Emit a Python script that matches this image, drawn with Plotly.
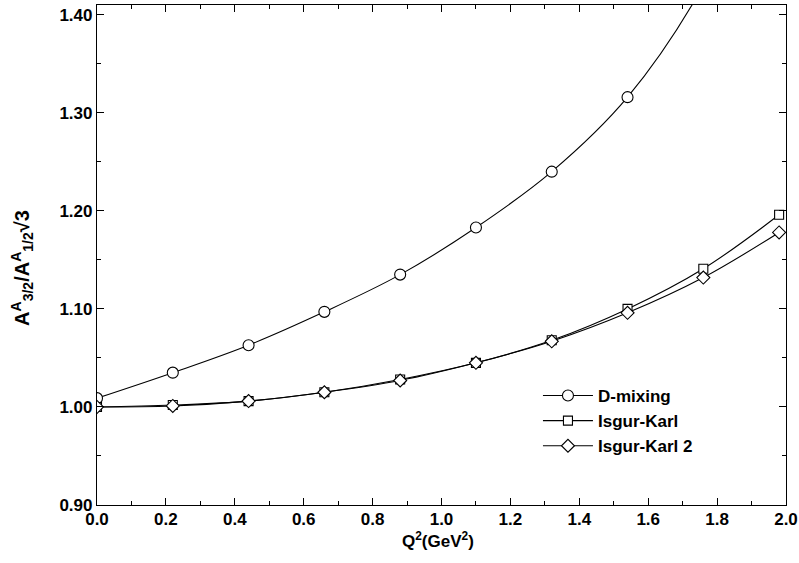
import plotly.graph_objects as go

q2 = [0.0, 0.22, 0.44, 0.66, 0.88, 1.10, 1.32, 1.54, 1.76, 1.98]
d_mixing = [1.009, 1.035, 1.063, 1.097, 1.135, 1.183, 1.240, 1.316, 1.430, 1.600]
isgur_karl = [1.000, 1.002, 1.006, 1.015, 1.028, 1.045, 1.068, 1.100, 1.141, 1.196]
isgur_karl2 = [1.000, 1.001, 1.006, 1.015, 1.027, 1.045, 1.067, 1.096, 1.132, 1.178]

x_ticks = [0.0, 0.2, 0.4, 0.6, 0.8, 1.0, 1.2, 1.4, 1.6, 1.8, 2.0]
y_ticks = [0.90, 1.00, 1.10, 1.20, 1.30, 1.40]

FONT = "Liberation Sans, Arial, Helvetica, sans-serif"

fig = go.Figure()
series = [
    ("D-mixing", d_mixing, "circle", 11),
    ("Isgur-Karl", isgur_karl, "square", 9),
    ("Isgur-Karl 2", isgur_karl2, "diamond", 10),
]
for name, ys, sym, size in series:
    fig.add_trace(go.Scatter(
        x=q2, y=ys, name=name, mode="lines+markers",
        line=dict(color="black", width=1.1, shape="spline", smoothing=1.0),
        marker=dict(symbol=sym, size=size, color="white",
                    line=dict(color="black", width=1.1)),
        cliponaxis=True,
    ))

axis_common = dict(
    showgrid=False, zeroline=False, showline=True, linecolor="black",
    linewidth=1.2, mirror="allticks", ticks="inside", ticklen=7,
    tickcolor="black", tickwidth=1, automargin=False,
    tickfont=dict(family=FONT, size=17, color="black", weight="bold"),
)

fig.update_xaxes(
    range=[0, 2.0], tickvals=x_ticks, tickformat=".1f",
    minor=dict(dtick=0.1, ticks="inside", ticklen=4, tickcolor="black", showgrid=False),
    ticklabelstandoff=-2,
    **axis_common,
)
fig.update_yaxes(
    range=[0.90, 1.41], tickvals=y_ticks, tickformat=".2f",
    minor=dict(dtick=0.05, ticks="inside", ticklen=4, tickcolor="black", showgrid=False),
    **axis_common,
)

fig.add_annotation(
    text="Q<sup>2</sup>(GeV<sup>2</sup>)", xref="paper", yref="paper",
    x=0.495, y=-0.07, xanchor="center", yanchor="middle", showarrow=False,
    font=dict(family=FONT, size=17, color="black", weight="bold"),
)
fig.add_annotation(
    text="A<sup>A</sup><sub>3/2</sub>/A<sup>A</sup><sub>1/2</sub>√3", xref="paper", yref="paper",
    x=-0.109, y=0.474, xanchor="center", yanchor="middle", showarrow=False,
    textangle=-90,
    font=dict(family=FONT, size=20, color="black", weight="bold"),
)

fig.update_layout(
    width=799, height=563,
    margin=dict(l=97, r=13, t=5, b=58, autoexpand=False),
    paper_bgcolor="white", plot_bgcolor="white",
    showlegend=True,
    legend=dict(x=0.640, y=0.254, xanchor="left", yanchor="top",
                bgcolor="rgba(0,0,0,0)", itemwidth=50, tracegroupgap=0,
                font=dict(family=FONT, size=17, color="black", weight="bold")),
)

fig.write_html("out.html", config={"displayModeBar": False},
               post_script="document.body.style.margin='0';")
